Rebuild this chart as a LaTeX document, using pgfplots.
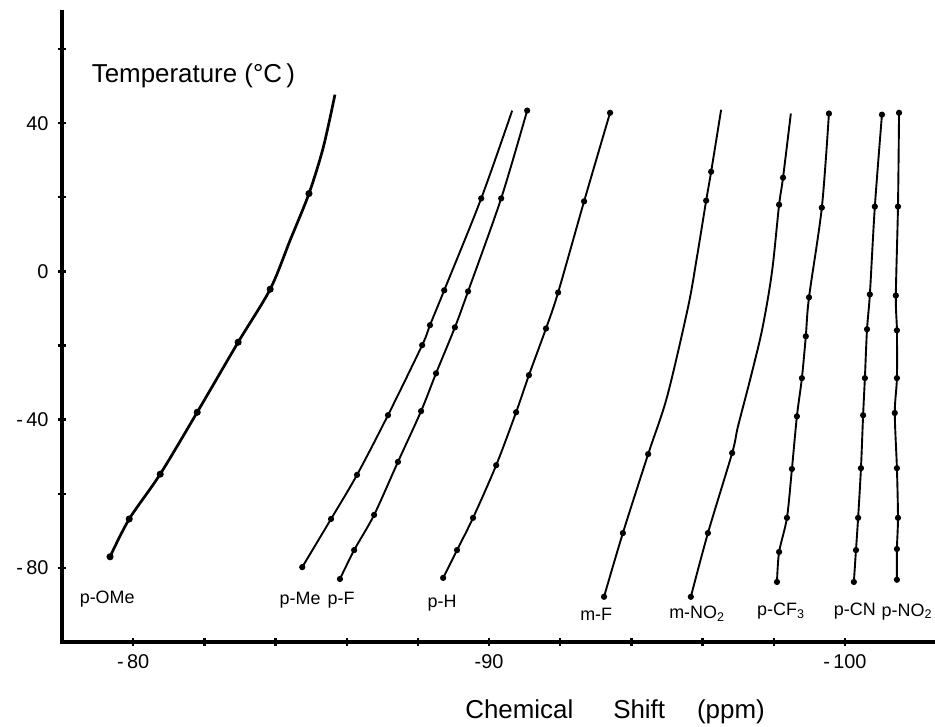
\documentclass[border=0pt]{standalone}
\usepackage{fontspec}
\setmainfont{Liberation Sans}
\usepackage{pgfplots}
\pgfplotsset{compat=1.18}
\pgfplotsset{curve/.style={black, smooth, line width=1.9bp, mark=*, mark size=2.1bp, mark options={solid, fill=black, draw=black}}}
\begin{document}
\begin{tikzpicture}
\begin{axis}[
  scale only axis, width=873bp, height=630bp,
  at={(0,0)}, anchor=south west,
  x dir=reverse,
  xmin=-102.53, xmax=-78.0, ymin=-100, ymax=70,
  axis x line=bottom, axis y line=left,
  axis line style={-, black},
  xtick={-80,-82,-84,-86,-88,-90,-92,-94,-96,-98,-100},
  xticklabels={-\,80,,,,,-90,,,,,-\,100},
  ytick={-80,-60,-40,-20,0,20,40,60},
  yticklabels={-\,80,,-\,40,,0,,40,},
  tick align=center, major tick length=8bp,
  tick style={line width=2.4bp, black},
  ticklabel style={font=\fontsize{20}{22}\selectfont},
  xticklabel style={yshift=-5bp},
  yticklabel style={xshift=-6bp},
  clip=false,
]
\draw[line width=3.4bp, line cap=rect] (axis cs:-102.53,-100) -- (axis cs:-78,-100) -- (axis cs:-78,70);
% p-OMe
\addplot[curve, line width=2.7bp, mark indices={3,5,6,7,8,9,10}] coordinates {
(-85.67,47.7) (-85.34,33.4) (-84.94,21.0) (-84.41,8.4) (-83.85,-4.8) (-82.95,-19.1)
(-81.80,-38.0) (-80.76,-54.7) (-79.89,-66.8) (-79.35,-77.0)};
% p-Me
\addplot[curve, mark indices={2,3,4,5,6,7,8,9}] coordinates {
(-90.65,43.4) (-89.78,19.7) (-88.74,-5.1) (-88.34,-14.5) (-88.12,-19.9)
(-87.16,-38.8) (-86.29,-54.9) (-85.56,-66.8) (-84.75,-79.8)};
% p-F
\addplot[curve] coordinates {
(-91.07,43.4) (-90.34,19.7) (-89.41,-5.4) (-89.04,-15.1) (-88.51,-27.5)
(-88.09,-37.7) (-87.44,-51.4) (-86.77,-65.7) (-86.21,-75.2) (-85.81,-83.0)};
% p-H
\addplot[curve] coordinates {
(-93.40,42.8) (-92.67,18.9) (-91.94,-5.7) (-91.60,-15.4) (-91.12,-28.0)
(-90.76,-38.0) (-90.20,-52.3) (-89.55,-66.5) (-89.10,-75.2) (-88.71,-82.7)};
% m-F
\addplot[curve, mark indices={2,3,7,8,9}] coordinates {
(-96.52,43.6) (-96.24,26.9) (-96.10,19.1) (-95.84,3.8) (-95.59,-9.7)
(-95.00,-33.9) (-94.47,-49.3) (-93.76,-70.6) (-93.23,-87.8)};
% m-NO2
\addplot[curve, mark indices={2,3,9,10,11}] coordinates {
(-98.48,42.6) (-98.26,25.3) (-98.15,18.0) (-97.98,2.2) (-97.84,-7.0) (-97.64,-17.2)
(-97.33,-29.4) (-96.99,-42.0) (-96.83,-49.0) (-96.15,-70.6) (-95.67,-87.8)};
% p-CF3
\addplot[curve] coordinates {
(-99.55,42.6) (-99.35,17.2) (-98.99,-7.0) (-98.90,-17.5) (-98.79,-28.8)
(-98.65,-39.1) (-98.51,-53.3) (-98.37,-66.5) (-98.15,-75.7) (-98.09,-83.8)};
% p-CN
\addplot[curve] coordinates {
(-101.04,42.3) (-100.84,17.5) (-100.70,-6.2) (-100.62,-15.6) (-100.56,-28.8)
(-100.51,-38.8) (-100.45,-53.1) (-100.37,-66.5) (-100.31,-75.2) (-100.25,-83.8)};
% p-NO2
\addplot[curve] coordinates {
(-101.52,42.8) (-101.49,17.5) (-101.43,-6.5) (-101.46,-15.9) (-101.46,-28.8)
(-101.40,-38.2) (-101.46,-53.1) (-101.49,-66.5) (-101.46,-74.9) (-101.46,-83.2)};

\begin{scope}[every node/.style={font=\fontsize{18}{20}\selectfont}]
\node at (axis cs:-79.27,-88.3) {p-OMe};
\node at (axis cs:-84.69,-88.6) {p-Me};
\node at (axis cs:-85.84,-88.6) {p-F};
\node at (axis cs:-88.68,-89.4) {p-H};
\node at (axis cs:-93.01,-92.4) {m-F};
\node at (axis cs:-95.84,-92.4) {m-NO\textsubscript{2}};
\node at (axis cs:-98.20,-91.6) {p-CF\textsubscript{3}};
\node at (axis cs:-100.28,-91.6) {p-CN};
\node at (axis cs:-101.74,-91.8) {p-NO\textsubscript{2}};
\end{scope}
\node[anchor=west, font=\fontsize{26}{30}\selectfont] at (axis cs:-78.74,52.8) {Temperature (°C\,)};
\node[font=\fontsize{26}{30}\selectfont] at (axis cs:-93.54,-118.8) {Chemical\hspace{40bp}Shift\hspace{32bp}(ppm)};
\end{axis}
\pgfresetboundingbox
\useasboundingbox (-62bp,-85bp) rectangle (873bp,642bp);
\end{tikzpicture}
\end{document}
